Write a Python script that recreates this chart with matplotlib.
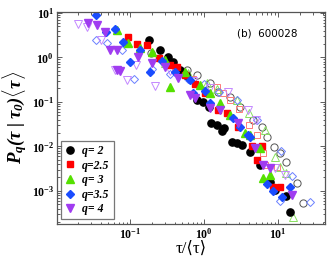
import math
import matplotlib
matplotlib.use("Agg")
import matplotlib.pyplot as plt
from matplotlib.ticker import LogLocator, FuncFormatter, NullFormatter

plt.rcParams['mathtext.fontset'] = 'custom'
plt.rcParams['mathtext.rm'] = 'Liberation Serif:bold:italic'
plt.rcParams['mathtext.it'] = 'Liberation Serif:italic:bold'
plt.rcParams['mathtext.bf'] = 'Liberation Serif:bold'

# ---- data (filled markers) ----
q2_x = [0.181, 0.254, 0.326, 0.381, 0.474, 0.571, 0.80, 0.97, 1.17, 1.24, 1.50, 1.75, 1.86, 2.39, 2.79, 3.26, 4.19, 5.71, 7.80, 9.1, 12.8, 14.5]
q2_y = [2.45, 1.46, 1.01, 0.78, 0.52, 0.40, 0.11, 0.099, 0.076, 0.033, 0.030, 0.022, 0.026, 0.0125, 0.0119, 0.0107, 0.0075, 0.0038, 0.0016, 0.00105, 0.00076, 0.00033]

q25_x = [0.094, 0.124, 0.17, 0.25, 0.347, 0.43, 0.55, 0.75, 1.03, 1.55, 2.05, 2.88, 4.45, 6.06, 5.2, 8.6, 10.6]
q25_y = [2.9, 2.0, 1.9, 0.95, 0.67, 0.60, 0.40, 0.25, 0.157, 0.065, 0.056, 0.027, 0.010, 0.010, 0.0049, 0.0012, 0.0012]

q3_x = [0.066, 0.094, 0.137, 0.2, 0.3, 0.347, 0.55, 0.88, 1.2, 1.64, 2.25, 3.6, 4.2, 5.7, 6.2, 7.8]
q3_y = [4.1, 2.1, 1.6, 1.3, 0.87, 0.215, 0.47, 0.24, 0.157, 0.094, 0.05, 0.02, 0.018, 0.009, 0.0019, 0.0023]

q35_x = [0.0347, 0.047, 0.063, 0.081, 0.1, 0.137, 0.186, 0.27, 0.405, 0.65, 0.71, 1.03, 1.2, 2.46, 3.06, 3.9, 4.2, 7.1, 8.6, 11.3, 14.5]
q35_y = [8.9, 3.7, 4.3, 2.2, 0.80, 1.46, 0.47, 0.85, 0.47, 0.31, 0.157, 0.18, 0.094, 0.043, 0.027, 0.018, 0.016, 0.0014, 0.0010, 0.00073, 0.0012]

q4_x = [0.027, 0.036, 0.046, 0.054, 0.067, 0.066, 0.073, 0.13, 0.2, 0.3, 0.45, 0.65, 0.76, 1.2, 1.65, 2.9, 4.9, 6.3, 7.8, 15.5]
q4_y = [5.9, 5.3, 3.7, 1.46, 1.46, 0.52, 0.50, 1.0, 0.75, 0.6, 0.35, 0.142, 0.12, 0.072, 0.065, 0.033, 0.0091, 0.0038, 0.0032, 0.00079]

# ---- data (open markers) ----
o2_x = [0.19, 0.58, 0.80, 1.2, 1.55, 2.25, 3.06, 4.55, 6.0, 7.0, 8.7, 10.6, 12.8, 17.9, 21.8]
o2_y = [1.25, 0.52, 0.40, 0.26, 0.17, 0.13, 0.078, 0.039, 0.0275, 0.0164, 0.0098, 0.0070, 0.0045, 0.0015, 0.00053]

o25_x = [0.4, 0.7, 1.49, 1.8, 2.25, 3.0, 4.06, 5.2, 6.3, 6.7, 9.6]
o25_y = [0.55, 0.32, 0.22, 0.16, 0.11, 0.07, 0.030, 0.018, 0.0070, 0.0038, 0.0035]

o3_x = [0.3, 0.6, 1.09, 1.5, 2.77, 4.0, 6.7, 9.1, 10.6, 12.8, 16.0]
o3_y = [0.75, 0.45, 0.26, 0.19, 0.11, 0.055, 0.023, 0.0058, 0.0035, 0.0025, 0.00026]

o35_x = [0.035, 0.049, 0.078, 0.113, 0.2, 0.35, 0.6, 1.0, 1.6, 2.8, 5.2, 10.9, 15.3, 10.6, 27.0]
o35_y = [2.45, 2.1, 1.46, 0.32, 0.55, 0.42, 0.33, 0.25, 0.17, 0.11, 0.039, 0.0078, 0.0021, 0.0006, 0.00057]

o4_x = [0.0199, 0.026, 0.04, 0.063, 0.09, 0.12, 0.218, 0.35, 0.7, 1.2, 2.1, 3.9, 5.0, 9.1, 12.4]
o4_y = [5.6, 4.8, 2.5, 0.52, 0.31, 0.67, 0.226, 0.5, 0.3, 0.2, 0.17, 0.065, 0.04, 0.0032, 0.0023]

labels = ["q= 2", "q=2.5", "q= 3", "q=3.5", "q= 4"]
colors = ["#000000", "#ff0000", "#55e000", "#1a4cff", "#a03cf0"]
open_colors = ["#555555", "#ff7a7a", "#88e060", "#6a80ff", "#c488ff"]
markers = ["o", "s", "^", "D", "v"]
msizes = [5.2, 4.8, 5.4, 4.4, 5.4]

filled = [(q2_x, q2_y), (q25_x, q25_y), (q3_x, q3_y), (q35_x, q35_y), (q4_x, q4_y)]
opens = [(o2_x, o2_y), (o25_x, o25_y), (o3_x, o3_y), (o35_x, o35_y), (o4_x, o4_y)]

fig = plt.figure(figsize=(3.27, 2.61), dpi=100)
ax = fig.add_axes([0.174, 0.142, 0.820, 0.812])

for (x, y), c, m, s in zip(opens, open_colors, markers, msizes):
    ax.plot(x, y, linestyle='none', marker=m, markersize=s, markerfacecolor='none',
            markeredgecolor=c, markeredgewidth=0.7)
handles = []
for (x, y), c, m, s, lab in zip(filled, colors, markers, msizes, labels):
    h, = ax.plot(x, y, linestyle='none', marker=m, markersize=s, color=c,
                 markeredgecolor=c, label=lab)
    handles.append(h)

ax.set_xscale('log')
ax.set_yscale('log')
ax.set_xlim(0.0103, 43)
ax.set_ylim(1.8e-4, 10.5)

def fmt(v, pos):
    e = int(round(math.log10(v)))
    return r'$\mathbf{10}^{\mathbf{%d}}$' % e

ax.xaxis.set_major_locator(LogLocator(base=10, numticks=10))
ax.yaxis.set_major_locator(LogLocator(base=10, numticks=10))
ax.xaxis.set_minor_locator(LogLocator(base=10, subs=range(2, 10), numticks=10))
ax.yaxis.set_minor_locator(LogLocator(base=10, subs=range(2, 10), numticks=10))
ax.xaxis.set_major_formatter(FuncFormatter(fmt))
ax.yaxis.set_major_formatter(FuncFormatter(fmt))
ax.xaxis.set_minor_formatter(NullFormatter())
ax.yaxis.set_minor_formatter(NullFormatter())
ax.tick_params(which='both', direction='in', top=True, right=True, colors='#444444',
               labelcolor='black', labelsize=8.5, width=0.6)
ax.tick_params(which='major', length=3.5, pad=2)
ax.tick_params(which='minor', length=1.8)
for sp in ax.spines.values():
    sp.set_color('#555555')
    sp.set_linewidth(0.9)

ax.set_xlabel('τ/⟨τ⟩', fontsize=12, family=['Liberation Serif', 'DejaVu Serif'], labelpad=0)
ax.set_ylabel(r'$P_q(\tau\;|\;\tau_0)\langle\tau\rangle$', fontsize=13.5, labelpad=1)

ax.text(0.67, 0.885, '(b)  600028', transform=ax.transAxes, fontsize=7.5,
        family='DejaVu Sans')

leg = ax.legend(handles=handles, loc='lower left', bbox_to_anchor=(0.008, 0.01),
                frameon=True, fancybox=False, handlelength=0.8, handletextpad=0.6,
                borderpad=0.35, labelspacing=0.22, borderaxespad=0.2,
                prop={'family': 'Liberation Serif', 'weight': 'bold', 'style': 'italic', 'size': 8.5})
leg.get_frame().set_edgecolor('#555555')
leg.get_frame().set_linewidth(0.9)

fig.savefig('out.png', dpi=100)
